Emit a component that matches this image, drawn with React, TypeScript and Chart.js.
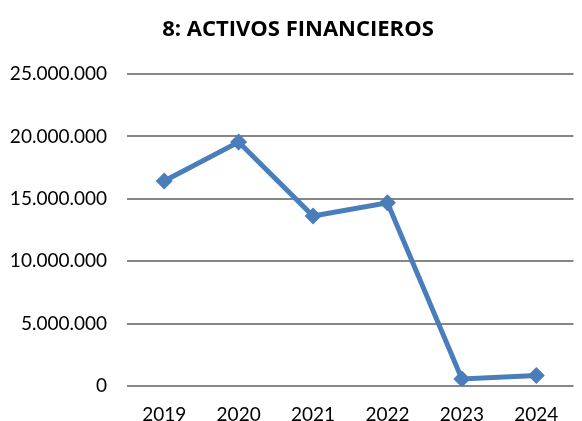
import React, { useEffect, useRef } from "react";
import { Chart, registerables } from "chart.js";

Chart.register(...registerables);

const categories = ["2019", "2020", "2021", "2022", "2023", "2024"];
const values = [16430000, 19550000, 13620000, 14680000, 560000, 850000];
const titleText = "8: ACTIVOS FINANCIEROS";

const fmt = (v: number) =>
  String(Math.round(v)).replace(/\B(?=(\d{3})+(?!\d))/g, ".");

const titlePlugin = {
  id: "customTitle",
  afterDraw(chart: any) {
    const c = chart.ctx;
    c.save();
    c.font = "bold 22px 'Open Sans'";
    c.fillStyle = "#000";
    c.textAlign = "center";
    c.textBaseline = "middle";
    c.fillText(titleText, 298, 30);
    c.restore();
  },
};

export default function App() {
  const ref = useRef<HTMLCanvasElement | null>(null);
  useEffect(() => {
    document.body.style.margin = "0";
    const ctx = ref.current!;
    const chart = new Chart(ctx, {
      type: "line",
      data: {
        labels: categories,
        datasets: [
          {
            data: values,
            borderColor: "#4A7EBB",
            backgroundColor: "#4A7EBB",
            borderWidth: 5,
            pointStyle: "rectRot",
            pointRadius: 8.5,
            pointBorderWidth: 0,
            pointBackgroundColor: "#4A7EBB",
            tension: 0,
          },
        ],
      },
      plugins: [titlePlugin],
      options: {
        responsive: false,
        animation: false,
        layout: { padding: { left: 0, right: 4, top: 74, bottom: 0 } },
        plugins: {
          legend: { display: false },
          tooltip: { enabled: false },
          title: { display: false },
        },
        scales: {
          x: {
            offset: true,
            grid: { display: false, drawTicks: false },
            border: { display: false },
            ticks: {
              color: "#000",
              font: { family: "Lato", size: 19 },
              padding: 17,
            },
            afterFit: (s: any) => {
              s.height = 35;
            },
          },
          y: {
            min: 0,
            max: 25000000,
            grid: { color: "#868686", lineWidth: 2, drawTicks: false },
            border: { display: false },
            ticks: {
              stepSize: 5000000,
              color: "#000",
              font: { family: "Lato", size: 19 },
              padding: 20,
              callback: (v: any) => fmt(Number(v)),
            },
            afterFit: (s: any) => {
              s.width = 127;
            },
          },
        },
      },
    });
    return () => chart.destroy();
  }, []);
  return (
    <div style={{ width: 582, height: 421, background: "#fff" }}>
      <canvas ref={ref} width={582} height={421} />
    </div>
  );
}
